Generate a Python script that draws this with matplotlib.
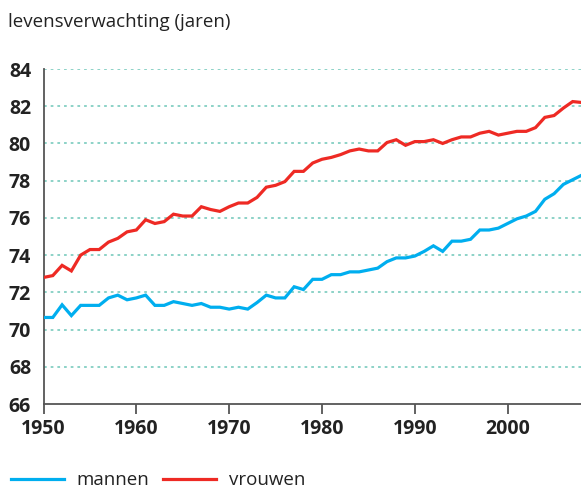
import matplotlib
matplotlib.use("Agg")
import matplotlib.pyplot as plt

plt.rcParams['font.family'] = ['Open Sans', 'DejaVu Sans']

# Levensverwachting bij geboorte, 1950-2008
years = list(range(1950, 2009))
mannen = [70.65, 70.65, 71.33, 70.75, 71.3, 71.3, 71.3, 71.7, 71.85, 71.6,
          71.7, 71.85, 71.3, 71.3, 71.5, 71.4, 71.3, 71.4, 71.2, 71.2,
          71.1, 71.2, 71.1, 71.45, 71.85, 71.7, 71.7, 72.3, 72.15, 72.7,
          72.7, 72.95, 72.95, 73.1, 73.1, 73.2, 73.3, 73.65, 73.85, 73.85,
          73.95, 74.2, 74.5, 74.2, 74.75, 74.75, 74.85, 75.35, 75.35, 75.45,
          75.7, 75.95, 76.1, 76.35, 77.0, 77.3, 77.8, 78.05, 78.3]
vrouwen = [72.8, 72.9, 73.45, 73.15, 74.0, 74.3, 74.3, 74.7, 74.9, 75.25,
           75.35, 75.9, 75.7, 75.8, 76.2, 76.1, 76.1, 76.6, 76.45, 76.35,
           76.6, 76.8, 76.8, 77.1, 77.65, 77.75, 77.95, 78.5, 78.5, 78.95,
           79.15, 79.25, 79.4, 79.6, 79.7, 79.6, 79.6, 80.05, 80.2, 79.9,
           80.1, 80.1, 80.2, 80.0, 80.2, 80.35, 80.35, 80.55, 80.65, 80.45,
           80.55, 80.65, 80.65, 80.85, 81.4, 81.5, 81.9, 82.25, 82.2]
x_ticks = [1950, 1960, 1970, 1980, 1990, 2000]
y_ticks = [66, 68, 70, 72, 74, 76, 78, 80, 82, 84]

blue = '#00aeef'
red = '#ee2a24'
text_col = '#222222'

fig = plt.figure(figsize=(5.81, 4.88), dpi=100)
ax = fig.add_axes([0.0749, 0.1721, 0.9251, 0.6865])

# dotted horizontal grid lines
for v in y_ticks[1:]:
    ax.axhline(v, color='#84cfc3', lw=1.3, ls=(0, (1.5, 2.2)), zorder=1)

ax.plot(years, mannen, color=blue, lw=2.3, label='mannen', zorder=3,
        solid_joinstyle='miter')
ax.plot(years, vrouwen, color=red, lw=2.3, label='vrouwen', zorder=3,
        solid_joinstyle='miter')

ax.set_xlim(1950, 2007.9)
ax.set_ylim(66, 84)
ax.set_xticks(x_ticks)
ax.set_yticks(y_ticks)
ax.tick_params(axis='x', length=7.5, width=1.3, color='#555555', pad=3,
               labelsize=14, labelcolor=text_col)
ax.tick_params(axis='y', length=0, pad=9, labelsize=14, labelcolor=text_col)
for lab in ax.get_xticklabels() + ax.get_yticklabels():
    lab.set_fontweight('bold')

for side in ['top', 'right']:
    ax.spines[side].set_visible(False)
for side in ['left', 'bottom']:
    ax.spines[side].set_color('#555555')
    ax.spines[side].set_linewidth(1.3)

fig.text(0.014, 0.955, 'levensverwachting (jaren)', fontsize=13.5,
         color=text_col, ha='left', va='center')

fig.legend(loc='center left', bbox_to_anchor=(0.019, 0.016), ncol=2,
           frameon=False, fontsize=13.5, handlelength=2.8,
           handletextpad=0.7, columnspacing=0.75, borderaxespad=0,
           borderpad=0, labelcolor=text_col)

fig.savefig('out.png', dpi=100)
